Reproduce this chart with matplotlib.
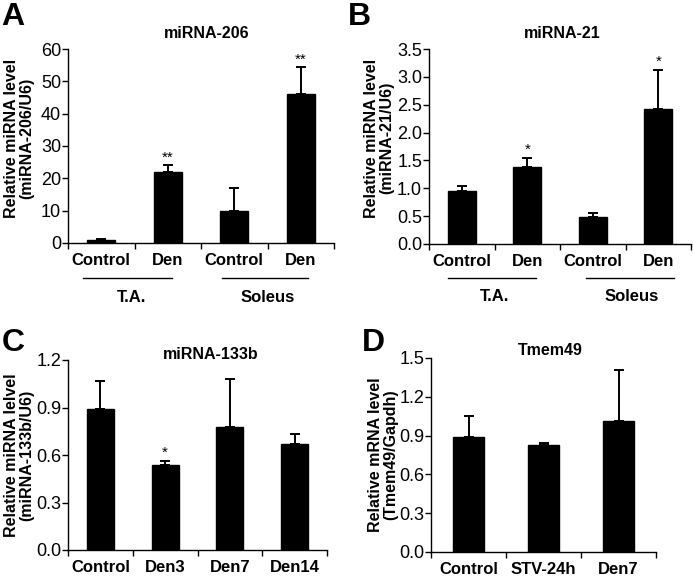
import numpy as np
import matplotlib.pyplot as plt
from matplotlib.transforms import blended_transform_factory
from matplotlib.ticker import FormatStrFormatter

plt.rcParams['font.family'] = ['Liberation Sans', 'DejaVu Sans']

# panel A: miRNA-206
a_labels = ["Control", "Den", "Control", "Den"]
a_means = [0.8, 22.0, 10.0, 46.0]
a_errs = [0.5, 2.0, 7.0, 8.3]
a_stars = ["", "**", "", "**"]

# panel B: miRNA-21
b_labels = ["Control", "Den", "Control", "Den"]
b_means = [0.95, 1.38, 0.48, 2.42]
b_errs = [0.10, 0.16, 0.07, 0.70]
b_stars = ["", "*", "", "*"]

# panel C: miRNA-133b
c_labels = ["Control", "Den3", "Den7", "Den14"]
c_means = [0.89, 0.54, 0.78, 0.67]
c_errs = [0.18, 0.025, 0.30, 0.06]
c_stars = ["", "*", "", ""]

# panel D: Tmem49
d_labels = ["Control", "STV-24h", "Den7"]
d_means = [0.89, 0.83, 1.01]
d_errs = [0.16, 0.015, 0.40]
d_stars = ["", "", ""]

groups = ["T.A.", "Soleus"]

fig = plt.figure(figsize=(6.93, 5.79), dpi=100)
W, H = 693, 579


def px_axes(left, right, top, bottom):
    return fig.add_axes([left / W, 1 - bottom / H, (right - left) / W, (bottom - top) / H])


def bar_panel(ax, labels, means, errs, stars, ymax, step, fmt, star_off):
    n = len(labels)
    x = np.arange(n)
    ax.bar(x, means, width=0.42, color="black", edgecolor="black", zorder=2)
    ax.errorbar(x, means, yerr=[np.zeros(n), errs], fmt="none", ecolor="black",
                elinewidth=1.4, capsize=3.6, capthick=1.4, zorder=1)
    for xi, m, e, s in zip(x, means, errs, stars):
        if s:
            ax.text(xi, m + e + star_off, s, ha="center", va="bottom", fontsize=11)
    ax.set_xlim(-0.5, n - 0.5)
    ax.set_ylim(0, ymax)
    ax.set_yticks(np.arange(0, ymax + step / 2, step))
    ax.yaxis.set_major_formatter(FormatStrFormatter(fmt))
    ax.set_xticks(np.arange(n + 1) - 0.5)
    ax.set_xticklabels([])
    ax.set_xticks(x, labels, minor=True)
    ax.tick_params(axis="x", which="minor", length=0, pad=7)
    ax.tick_params(axis="x", which="major", direction="out", length=4, width=1)
    ax.tick_params(axis="y", direction="out", length=4, width=1, pad=1, labelsize=13)
    for lab in ax.get_xticklabels(minor=True):
        lab.set_fontweight("bold")
        lab.set_fontsize(12)
    for side in ["top", "right"]:
        ax.spines[side].set_visible(False)
    for side in ["left", "bottom"]:
        ax.spines[side].set_linewidth(1.0)


def group_marks(ax, spans, centers, line_y, text_y):
    tr = blended_transform_factory(ax.transData, ax.transAxes)
    for (x0, x1), xc, g in zip(spans, centers, groups):
        ax.plot([x0, x1], [line_y, line_y], color="black", lw=1.0, transform=tr, clip_on=False)
        ax.text(xc, text_y, g, transform=tr, ha="center", va="center",
                fontsize=12, fontweight="bold")


# A
axA = px_axes(68, 334, 49, 243)
bar_panel(axA, a_labels, a_means, a_errs, a_stars, 60, 10, "%d", 0.3)
group_marks(axA, [(-0.27, 1.06), (1.82, 3.11)], [0.45, 2.5], -0.18, -0.28)
axA.text(0.52, 1.08, "miRNA-206", transform=axA.transAxes, ha="center", va="center",
         fontsize=11.5, fontweight="bold")

# B
axB = px_axes(429, 691, 49, 244)
bar_panel(axB, b_labels, b_means, b_errs, b_stars, 3.5, 0.5, "%.1f", 0.02)
group_marks(axB, [(-0.21, 1.13), (1.90, 3.24)], [0.5, 2.6], -0.175, -0.27)
axB.text(0.51, 1.08, "miRNA-21", transform=axB.transAxes, ha="center", va="center",
         fontsize=11.5, fontweight="bold")

# C
axC = px_axes(68, 327, 360, 550)
bar_panel(axC, c_labels, c_means, c_errs, c_stars, 1.2, 0.3, "%.1f", 0.005)
axC.text(0.55, 1.03, "miRNA-133b", transform=axC.transAxes, ha="center", va="center",
         fontsize=11.5, fontweight="bold")

# D
axD = px_axes(431, 656, 358, 552)
bar_panel(axD, d_labels, d_means, d_errs, d_stars, 1.5, 0.3, "%.1f", 0.01)
axD.text(0.53, 1.04, "Tmem49", transform=axD.transAxes, ha="center", va="center",
         fontsize=11.5, fontweight="bold")

# y labels
ylabs = [
    (19, 138, "Relative miRNA level\n(miRNA-206/U6)"),
    (379, 138, "Relative miRNA level\n(miRNA-21/U6)"),
    (19, 455, "Relative miRNA lelvel\n(miRNA-133b/U6)"),
    (383, 455, "Relative mRNA level\n(Tmem49/Gapdh)"),
]
for xp, yp, t in ylabs:
    fig.text(xp / W, 1 - yp / H, t, rotation=90, ha="center", va="center",
             multialignment="center", fontsize=11.5, fontweight="bold", linespacing=1.05)

# panel letters
for xp, yp, t in [(13, 17, "A"), (359, 17, "B"), (13, 343, "C"), (373, 343, "D")]:
    fig.text(xp / W, 1 - yp / H, t, ha="center", va="center", fontsize=23, fontweight="bold")

fig.savefig("out.png", dpi=100)
